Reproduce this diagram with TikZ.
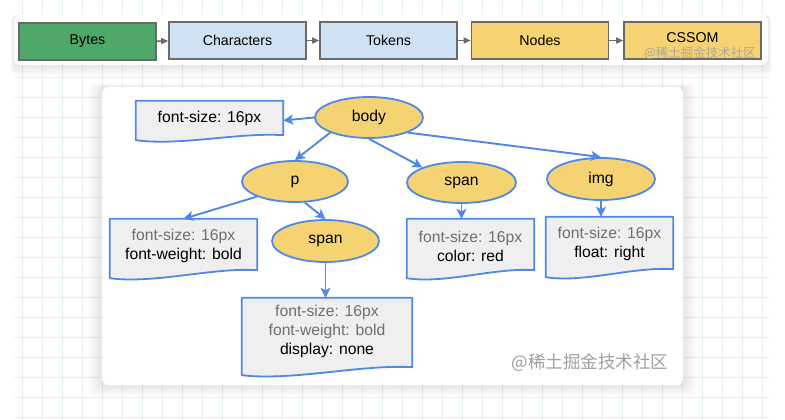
\documentclass[tikz,border=0pt]{standalone}
\usepackage{fontspec}
\setmainfont{Liberation Sans}
\newfontfamily\cjk{Noto Sans CJK SC}
\usetikzlibrary{arrows.meta,calc,shapes.geometric}
\definecolor{gridc}{HTML}{E3F0F8}
\definecolor{bluec}{HTML}{4F88E6}
\definecolor{yelc}{HTML}{F5D372}
\definecolor{docfill}{HTML}{EFEFEF}
\definecolor{inh}{HTML}{6E6E6E}
\definecolor{greenc}{HTML}{4FA869}
\definecolor{lblue}{HTML}{CFE2F3}
\definecolor{topline}{HTML}{6A6A6A}
\definecolor{wmc}{HTML}{A0A0A0}
\pgfdeclarelayer{bg}
\pgfdeclarelayer{shapes}
\pgfsetlayers{bg,shapes,main}
\newcommand\docshape[2]{%
  \begin{pgfonlayer}{shapes}
  \path[docline] (#1.north west) -- (#1.north east) -- ($(#1.south east)+(0,-#2)$)
    .. controls ($(#1.south east)!0.3!(#1.south west)+(0,-#2-3)$) and ($(#1.south west)!0.3!(#1.south east)+(0,6)$) .. (#1.south west) -- cycle;
  \end{pgfonlayer}}
\begin{document}
\begin{tikzpicture}[x=1pt,y=-1pt,
  topbox/.style={draw=topline, line width=1.6pt, minimum width=137pt, minimum height=37pt, inner sep=0pt, font=\fontsize{14.2}{16}\selectfont},
  toparrow/.style={draw=topline, line width=1.5pt, -{Triangle[length=7pt,width=6pt]}},
  elnode/.style={ellipse, draw=bluec, line width=1.8pt, fill=yelc, inner sep=0pt, font=\fontsize{15.7}{18}\selectfont},
  docbox/.style={rectangle, inner sep=0pt, draw=none},
  doctext/.style={align=center, font=\fontsize{15.7}{19}\selectfont, inner sep=0pt},
  docline/.style={draw=bluec, line width=1.8pt, fill=docfill, line join=round},
  conn/.style={draw=bluec, line width=1.9pt, -{Stealth[length=10pt,width=10pt,inset=2.5pt]}}]
\useasboundingbox (0,0) rectangle (785,420);
\begin{pgfonlayer}{bg}
  \fill[white] (0,0) rectangle (785,420);
  \foreach \gx in {22,42,...,762} \draw[gridc, line width=0.8pt] (\gx,0) -- (\gx,420);
  \foreach \gy in {17,37,...,417} \draw[gridc, line width=0.8pt] (14,\gy) -- (769,\gy);
  % shadows
  \foreach \i in {1,...,12} {
    \fill[black, opacity=0.008, rounded corners=6pt] (14-\i*0.3,15) rectangle (768+\i*0.3,65+\i);
    \fill[black, opacity=0.009, rounded corners=6pt] (102-\i*1.2,87-\i*0.3) rectangle (683+\i*1.2,385+\i);
  }
  \fill[white, rounded corners=6pt] (14,15) rectangle (768,65);
  \fill[white, rounded corners=6pt] (102,87) rectangle (683,385);
\end{pgfonlayer}
% top pipeline
\node[topbox, fill=greenc] (bytes) at (87.5,41.5) {Bytes};
\node[topbox, fill=lblue] (chars) at (237.5,40.5) {Characters};
\node[topbox, fill=lblue] (tokens) at (388.5,40.5) {Tokens};
\node[topbox, fill=yelc] (nodesb) at (540,40.5) {Nodes};
\node[topbox, fill=yelc, text depth=6pt] (cssom) at (692.5,40.5) {CSSOM};
\draw[toparrow] (bytes) -- (chars);
\draw[toparrow] (chars) -- (tokens);
\draw[toparrow] (tokens) -- (nodesb);
\draw[toparrow] (nodesb) -- (cssom);
\node[text=wmc, opacity=0.85, font=\cjk\fontsize{12.5}{14}\selectfont, inner sep=0pt] (wm1) at (700,53) {@稀土掘金技术社区};
% tree
\node[elnode, minimum width=108pt, minimum height=41pt] (body) at (369,117.5) {body};
\node[elnode, minimum width=106pt, minimum height=41pt] (p) at (295,181.5) {p};
\node[elnode, minimum width=109pt, minimum height=41pt] (spanA) at (461.5,182.5) {span};
\node[elnode, minimum width=108pt, minimum height=42pt] (img) at (601,179) {img};
\node[elnode, minimum width=107pt, minimum height=42pt] (spanB) at (325.5,241) {span};
% doc boxes
\node[docbox, minimum width=147pt, minimum height=39pt] (fsbox) at (209.5,120.5) {};
\docshape{fsbox}{5}
\node[doctext] (fstext) at (209.5,118.5) {font-size: 16px};
\node[docbox, minimum width=147pt, minimum height=59pt] (pbox) at (183.5,248.5) {};
\docshape{pbox}{8}
\node[doctext] (ptext) at (183.5,245.5) {\textcolor{inh}{font-size: 16px}\\font-weight: bold};
\node[docbox, minimum width=127pt, minimum height=59pt] (sbox) at (470.5,248.5) {};
\docshape{sbox}{8}
\node[doctext] (stext) at (470.5,246.5) {\textcolor{inh}{font-size: 16px}\\color: red};
\node[docbox, minimum width=127pt, minimum height=60pt] (ibox) at (609.5,247) {};
\docshape{ibox}{8}
\node[doctext] (itext) at (609.5,244) {\textcolor{inh}{font-size: 16px}\\float: right};
\node[docbox, minimum width=170pt, minimum height=77pt] (s2box) at (327,336.5) {};
\docshape{s2box}{8}
\node[doctext] (s2text) at (327,331.5) {\textcolor{inh}{font-size: 16px}\\\textcolor{inh}{font-weight: bold}\\display: none};
% connectors
\draw[conn] (body.west) -- (fsbox.east);
\draw[conn] (body.south west) -- (p.north);
\draw[conn] (body.south) -- (spanA.north west);
\draw[conn] (body.south east) -- (img.north);
\draw[conn] (p.south west) -- (pbox.north);
\draw[conn] (p.-65) -- (spanB.north);
\draw[conn] (spanA.south) -- (spanA.south |- sbox.north);
\draw[conn] (img.south) -- (img.south |- ibox.north);
\draw[conn] (spanB.south) -- (spanB.south |- s2box.north);
\node[text=wmc, font=\cjk\fontsize{17.5}{20}\selectfont, inner sep=0pt] (wm2) at (590,363) {@稀土掘金技术社区};
\end{tikzpicture}
\end{document}
